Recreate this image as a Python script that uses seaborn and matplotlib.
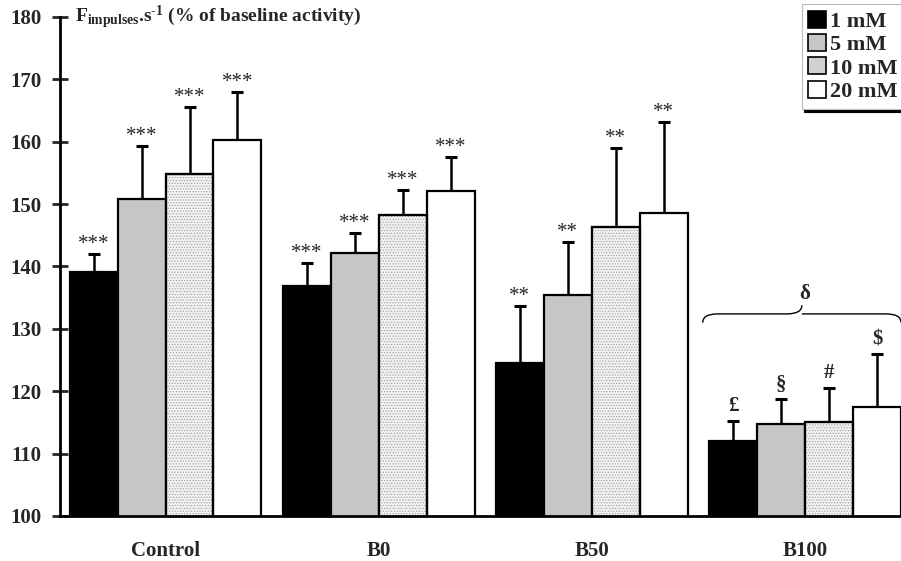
import matplotlib
matplotlib.use("Agg")
import matplotlib.pyplot as plt
import seaborn as sns
import pandas as pd
import numpy as np
from matplotlib.path import Path
from matplotlib.patches import PathPatch, Patch, Rectangle

# ---- data ----
groups = ["Control", "B0", "B50", "B100"]
doses = ["1 mM", "5 mM", "10 mM", "20 mM"]
mean_1mM = [139.1, 136.8, 124.5, 112.0]
mean_5mM = [150.9, 142.2, 135.5, 114.8]
mean_10mM = [154.8, 148.2, 146.4, 115.0]
mean_20mM = [160.3, 152.1, 148.6, 117.4]
sem_1mM = [2.9, 3.8, 9.2, 3.3]
sem_5mM = [8.4, 3.2, 8.5, 4.0]
sem_10mM = [10.7, 4.0, 12.6, 5.6]
sem_20mM = [7.7, 5.4, 14.6, 8.6]
sig_1mM = ["***", "***", "**", "£"]
sig_5mM = ["***", "***", "**", "§"]
sig_10mM = ["***", "***", "**", "#"]
sig_20mM = ["***", "***", "**", "$"]
yticks = [100, 110, 120, 130, 140, 150, 160, 170, 180]
ylabel = r"F$_{\mathbf{impulses}}$.s$^{\mathbf{\text{-}1}}$ (% of baseline activity)"

means = [mean_1mM, mean_5mM, mean_10mM, mean_20mM]
sems = [sem_1mM, sem_5mM, sem_10mM, sem_20mM]
sigs = [sig_1mM, sig_5mM, sig_10mM, sig_20mM]

rows = []
for d, m, s, g in zip(doses, means, sems, sigs):
    for grp, mv, sv, gv in zip(groups, m, s, g):
        rows.append({"group": grp, "dose": d, "value": mv, "sem": sv, "sig": gv})
df = pd.DataFrame(rows)

sns.set_theme(style="white")
plt.rcParams["font.family"] = ["Liberation Serif", "DejaVu Serif"]
plt.rcParams["font.weight"] = "bold"
plt.rcParams["mathtext.fontset"] = "custom"
plt.rcParams["mathtext.rm"] = "Liberation Serif:bold"
plt.rcParams["mathtext.bf"] = "Liberation Serif:bold"
plt.rcParams["mathtext.it"] = "Liberation Serif:bold"
plt.rcParams["mathtext.default"] = "bf"
plt.rcParams["hatch.linewidth"] = 0.5

fig = plt.figure(figsize=(9.01, 5.61), dpi=100)
ax = fig.add_axes([60 / 901, 1 - 516 / 561, 1 - 60 / 901, (516 - 17) / 561])

colors = {"1 mM": "#000000", "5 mM": "#c6c6c6", "10 mM": "#f2f2f2", "20 mM": "#ffffff"}
sns.barplot(data=df, x="group", y="value", hue="dose", order=groups, hue_order=doses,
            palette=colors, width=0.9, gap=0, errorbar=None, edgecolor="black",
            linewidth=1.6, saturation=1, ax=ax, legend=False, zorder=2)

hatch_col = "#9a9a9a"
conts = list(ax.containers)
for ci, cont in enumerate(conts):
    xs, ys = [], []
    for bar in cont.patches:
        xs.append(bar.get_x() + bar.get_width() / 2)
        ys.append(bar.get_height() + bar.get_y())
        if doses[ci] == "10 mM":
            bar.set_hatch("......")
            bar.set_edgecolor(hatch_col)
            ax.add_patch(Rectangle((bar.get_x(), bar.get_y()), bar.get_width(), bar.get_height(),
                                   fill=False, ec="black", lw=1.6, zorder=3))
    xs = np.array(xs)
    ys = np.array(ys)
    err = np.array(sems[ci])
    ax.errorbar(xs, ys, yerr=[np.zeros_like(err), err], fmt="none", ecolor="black",
                elinewidth=1.8, capsize=4.5, capthick=2.2, zorder=1)
    for x, y, e, s in zip(xs, ys, err, sigs[ci]):
        if "*" in s:
            ax.annotate(s, (x, y + e), xytext=(0, 0), textcoords="offset points",
                        ha="center", va="bottom", fontsize=15, fontweight="normal")
        else:
            ax.annotate(s, (x, y + e), xytext=(0, 3), textcoords="offset points",
                        ha="center", va="bottom", fontsize=15, fontweight="bold")

# curly brace over B100
def brace(ax, x0, x1, y, h):
    xm = (x0 + x1) / 2
    verts = [(x0, y - h), (x0, y), (x0 + 0.07, y),
             (xm - 0.07, y), (xm, y), (xm, y + h),
             (xm, y), (xm + 0.07, y),
             (x1 - 0.07, y), (x1, y), (x1, y - h)]
    codes = [Path.MOVETO, Path.CURVE3, Path.CURVE3,
             Path.LINETO, Path.CURVE3, Path.CURVE3,
             Path.MOVETO, Path.CURVE3,
             Path.LINETO, Path.CURVE3, Path.CURVE3]
    ax.add_patch(PathPatch(Path(verts, codes), fill=False, lw=1.0, color="black", clip_on=False))

brace(ax, 2.52, 3.45, 132.4, 1.4)
ax.text(3.0, 134.0, "δ", ha="center", va="bottom", fontsize=15, fontweight="bold")

ax.set_xlim(-0.495, 3.45)
ax.set_ylim(100, 180)
ax.set_yticks(yticks)
ax.set_xlabel("")
ax.set_ylabel("")
for s in ["top", "right"]:
    ax.spines[s].set_visible(False)
for s in ["left", "bottom"]:
    ax.spines[s].set_linewidth(2)
    ax.spines[s].set_color("black")
    ax.spines[s].set_zorder(4)
ax.tick_params(axis="y", direction="inout", length=11, width=2, labelsize=15, pad=8, left=True)
ax.tick_params(axis="x", length=0, labelsize=15, pad=18)
for lbl in ax.get_xticklabels() + ax.get_yticklabels():
    lbl.set_fontweight("bold")

ax.text(75 / 901, 1 - 17 / 561, ylabel, transform=fig.transFigure, ha="left", va="center",
        fontsize=14, fontweight="bold")

handles = [Patch(facecolor="#000000", edgecolor="black", lw=1.2),
           Patch(facecolor="#c6c6c6", edgecolor="black", lw=1.2),
           Patch(facecolor="#d0d0d0", edgecolor="black", lw=1.2),
           Patch(facecolor="#ffffff", edgecolor="black", lw=1.2)]
leg = fig.legend(handles, doses, loc="upper right", bbox_to_anchor=(1.004, 0.993),
                 bbox_transform=fig.transFigure, frameon=True, fancybox=False,
                 shadow={"color": "black", "alpha": 1}, prop={"size": 16, "weight": "bold"},
                 handlelength=0.8, handleheight=0.8, handletextpad=0.2, labelspacing=0.1,
                 borderpad=0.3, borderaxespad=0)
leg.get_frame().set_edgecolor("#bbbbbb")
leg.get_frame().set_linewidth(0.8)

fig.savefig("out.png", dpi=100)
